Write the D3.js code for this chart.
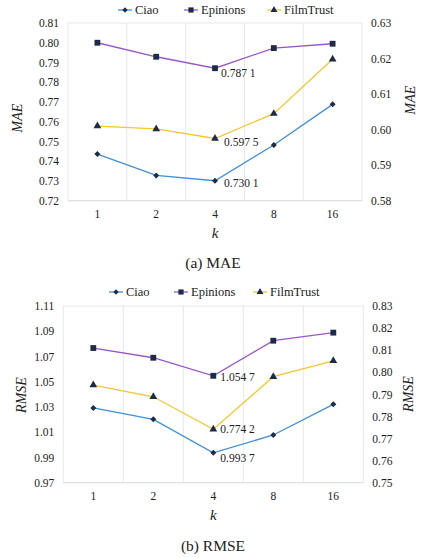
<!DOCTYPE html>
<html><head><meta charset="utf-8">
<script src="https://cdn.jsdelivr.net/npm/d3@7"></script>
<style>body{margin:0;background:#fff}svg{display:block}</style>
</head><body><svg id="c" width="425" height="558"></svg>
<script>
const FONT = "'Liberation Serif', 'Times New Roman', 'DejaVu Serif', serif";
const ks = ["1","2","4","8","16"];
const seriesNames = ["Ciao","Epinions","FilmTrust"];
// MAE panel
const maeCiao = [0.7436,0.7328,0.7301,0.7482,0.7688];
const maeEpinions = [0.8000,0.7929,0.7871,0.7973,0.7995];
const maeFilmTrust = [0.6010,0.6002,0.5975,0.6045,0.6198]; // right axis
const maeLeftTicks = [0.72,0.73,0.74,0.75,0.76,0.77,0.78,0.79,0.80,0.81];
const maeRightTicks = [0.58,0.59,0.60,0.61,0.62,0.63];
// RMSE panel
const rmseCiao = [1.0292,1.0202,0.9937,1.0078,1.0321];
const rmseEpinions = [1.0767,1.0690,1.0547,1.0825,1.0889];
const rmseFilmTrust = [0.7942,0.7889,0.7742,0.7980,0.8052]; // right axis
const rmseLeftTicks = [0.97,0.99,1.01,1.03,1.05,1.07,1.09,1.11];
const rmseRightTicks = [0.75,0.76,0.77,0.78,0.79,0.80,0.81,0.82,0.83];

const colors = {Ciao:"#3f8fd6", Epinions:"#9b57c9", FilmTrust:"#f5c630"};
const markerFill = "#1e2b47";
const shapes = {Ciao:d3.symbolSquare, Epinions:d3.symbolSquare, FilmTrust:d3.symbolTriangle};
const rot = {Ciao:45, Epinions:0, FilmTrust:0};
const sizes = {Ciao:18, Epinions:34, FilmTrust:26};

const svg = d3.select("#c");

function txt(sel){ return sel.style("font-family",FONT).style("fill","#222"); }

function panel(o){
  const g = svg.append("g");
  const x = d3.scaleBand().domain(ks).range([o.x0,o.x1]).padding(0);
  const yl = d3.scaleLinear().domain(o.ldom).range([o.y1,o.y0]);
  const yr = d3.scaleLinear().domain(o.rdom).range([o.y1,o.y0]);
  g.append("rect").attr("x",o.x0).attr("y",o.y0).attr("width",o.x1-o.x0).attr("height",o.y1-o.y0)
    .attr("fill","none").attr("stroke","#e8e8e8").attr("stroke-width",1);
  ks.slice(1).forEach(k=>{
    g.append("line").attr("x1",x(k)).attr("x2",x(k)).attr("y1",o.y0).attr("y2",o.y1)
      .attr("stroke","#e8e8e8").attr("stroke-width",1);
  });
  g.append("line").attr("x1",o.x0).attr("x2",o.x1).attr("y1",o.y1).attr("y2",o.y1).attr("stroke","#dedede");
  const la = g.append("g").attr("transform",`translate(${o.x0},0)`)
    .call(d3.axisLeft(yl).tickValues(o.lticks).tickFormat(d3.format(".2f")).tickSize(0).tickPadding(9));
  la.select(".domain").remove();
  txt(la.selectAll("text")).style("font-size","11.5px");
  const ra = g.append("g").attr("transform",`translate(${o.x1},0)`)
    .call(d3.axisRight(yr).tickValues(o.rticks).tickFormat(d3.format(".2f")).tickSize(0).tickPadding(9));
  ra.select(".domain").remove();
  txt(ra.selectAll("text")).style("font-size","11.5px");
  const xa = g.append("g").attr("transform",`translate(0,${o.y1})`)
    .call(d3.axisBottom(x).tickSize(0).tickPadding(9));
  xa.select(".domain").remove();
  txt(xa.selectAll("text")).style("font-size","11.5px");
  txt(g.append("text").attr("x",x("4")+x.bandwidth()/2).attr("y",o.y1+37).attr("text-anchor","middle")
    .style("font-size","15px").style("font-style","italic").text("k"));
  txt(g.append("text").attr("transform",`translate(${o.lx},${o.ly}) rotate(-90)`).attr("text-anchor","middle")
    .style("font-size","14px").style("font-style","italic").text(o.title));
  txt(g.append("text").attr("transform",`translate(${o.rx},${o.ry}) rotate(-90)`).attr("text-anchor","middle")
    .style("font-size","14px").style("font-style","italic").text(o.title));
  txt(g.append("text").attr("x",o.capx).attr("y",o.capy).attr("text-anchor","middle")
    .style("font-size","15.5px").text(o.caption));
  const data = {Ciao:[o.ciao,yl], Epinions:[o.epi,yl], FilmTrust:[o.film,yr]};
  seriesNames.forEach(s=>{
    const [vals,ys] = data[s];
    const line = d3.line().x((d,i)=>x(ks[i])+x.bandwidth()/2).y(d=>ys(d));
    g.append("path").attr("d",line(vals)).attr("fill","none").attr("stroke",colors[s]).attr("stroke-width",1.3);
    vals.forEach((v,i)=>{
      g.append("path").attr("d",d3.symbol().type(shapes[s]).size(sizes[s])())
        .attr("transform",`translate(${x(ks[i])+x.bandwidth()/2},${ys(v)}) rotate(${rot[s]})`).attr("fill",markerFill);
    });
    const i4 = 2;
    txt(g.append("text").attr("x",x(ks[i4])+x.bandwidth()/2+o.ann[s][0]).attr("y",ys(vals[i4])+o.ann[s][1])
      .style("font-size","11.5px").text(d3.format(".4f")(vals[i4]).replace(/(\d{3})(\d)$/,"$1 $2")));
  });
  const lg = g.append("g");
  seriesNames.forEach((s,i)=>{
    const lx = o.legx[i];
    lg.append("line").attr("x1",lx-7).attr("x2",lx+7).attr("y1",o.legy).attr("y2",o.legy)
      .attr("stroke",colors[s]).attr("stroke-width",1.3);
    lg.append("path").attr("d",d3.symbol().type(shapes[s]).size(sizes[s]*0.8)())
      .attr("transform",`translate(${lx},${o.legy}) rotate(${rot[s]})`).attr("fill",markerFill);
    txt(lg.append("text").attr("x",lx+10).attr("y",o.legy+4).style("font-size","12.5px").text(s));
  });
}

panel({x0:68,x1:362,y0:23,y1:200.7,ldom:[0.72,0.81],rdom:[0.58,0.63],lticks:maeLeftTicks,rticks:maeRightTicks,
  ciao:maeCiao,epi:maeEpinions,film:maeFilmTrust,title:"MAE",lx:22,ly:118,rx:415,ry:100,
  caption:"(a) MAE",capx:213,capy:268,legx:[125,191,274],legy:10,
  ann:{Ciao:[9,6],Epinions:[6,9],FilmTrust:[9,7]}});
panel({x0:63.3,x1:363.3,y0:306,y1:482.7,ldom:[0.97,1.11],rdom:[0.75,0.83],lticks:rmseLeftTicks,rticks:rmseRightTicks,
  ciao:rmseCiao,epi:rmseEpinions,film:rmseFilmTrust,title:"RMSE",lx:26,ly:395,rx:413,ry:394,
  caption:"(b) RMSE",capx:213,capy:551,legx:[116,181,260],legy:292,
  ann:{Ciao:[7,9],Epinions:[7,5],FilmTrust:[7,4]}});
</script></body></html>
